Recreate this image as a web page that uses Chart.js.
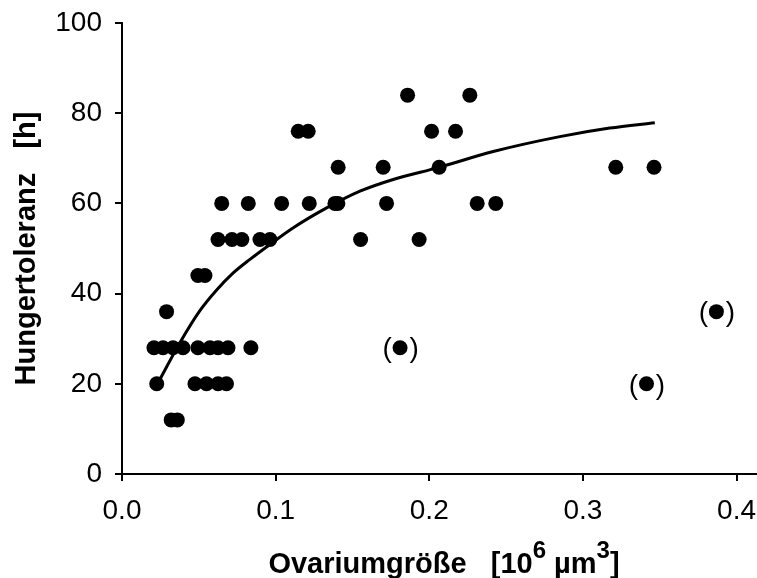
<!DOCTYPE html>
<html>
<head>
<meta charset="utf-8">
<script src="https://cdn.jsdelivr.net/npm/chart.js@4.4.1/dist/chart.umd.min.js"></script>
<style>
html,body{margin:0;padding:0;background:#fff;overflow:hidden;}
#wrap{width:764px;height:578px;position:relative;}
</style>
</head>
<body>
<div id="wrap"><canvas id="c"></canvas></div>
<script>
// measured points (x = Ovariumgröße, y = Hungertoleranz)
const ovX=[0.032,0.036,
0.0226,0.0475,0.055,0.0625,0.068,
0.0208,0.0267,0.0332,0.0397,0.0494,0.0573,0.0625,0.069,0.0839,
0.029,
0.0494,0.054,
0.0625,0.0716,0.078,0.0898,0.0963,0.1553,0.1934,
0.0649,0.0822,0.1039,0.1219,0.1386,0.1405,0.1722,0.2312,0.2433,
0.1407,0.170,0.2064,0.3214,0.3463,
0.1147,0.1212,0.2015,0.2171,
0.1859,0.2264];
const hungerY=[12,12,
20,20,20,20,20,
28,28,28,28,28,28,28,28,28,
36,
44,44,
52,52,52,52,52,52,52,
60,60,60,60,60,60,60,60,60,
68,68,68,68,68,
76,76,76,76,
84,84];
// bracketed outliers "(•)"
const outX=[0.181,0.3414,0.3869];
const outY=[28,20,36];
// fitted curve
const fitX=[0.0236,0.0377,0.0507,0.0616,0.0724,0.0833,0.0963,0.1115,0.1332,0.1549,0.1765,0.2064,0.2416,0.285,0.3175,0.3468];
const fitY=[20.3,29.1,36.2,40.8,44.6,47.6,50.9,54.6,59.0,62.7,65.3,68.0,71.5,74.8,76.7,77.9];
const xTicks=[0,0.1,0.2,0.3,0.4];
const yTicks=[0,20,40,60,80,100];
// x title pieces, second value = superscript
const xTitle=[['Ovariumgröße   [10',0],['6',1],[' µm',0],['3',1],[']',0]];

const FONT='"Liberation Sans", Arial, sans-serif';

const pts=ovX.map((x,i)=>({x:x,y:hungerY[i]}));
const outPts=outX.map((x,i)=>({x:x,y:outY[i]}));
const fit=fitX.map((x,i)=>({x:x,y:fitY[i]}));

const extras={
id:'extras',
afterDatasetsDraw(chart){
const ctx=chart.ctx, xs=chart.scales.x, ys=chart.scales.y;
ctx.save();
ctx.fillStyle='#000';
ctx.font='28px '+FONT;
ctx.textAlign='center';
ctx.textBaseline='middle';
outPts.forEach(p=>{
const px=xs.getPixelForValue(p.x), py=ys.getPixelForValue(p.y);
ctx.fillText('(',px-13,py+2);
ctx.fillText(')',px+14,py+2);
});
// x axis title with raised exponents
const big='bold 29px '+FONT, small='bold 24px '+FONT;
let w=0;
xTitle.forEach(s=>{ctx.font=s[1]?small:big; w+=ctx.measureText(s[0]).width;});
let x=444-w/2;
const base=573;
ctx.textAlign='left';
ctx.textBaseline='alphabetic';
xTitle.forEach(s=>{
ctx.font=s[1]?small:big;
ctx.fillText(s[0],x,s[1]?base-15:base);
x+=ctx.measureText(s[0]).width;
});
ctx.restore();
}
};

new Chart(document.getElementById('c'),{
type:'scatter',
data:{datasets:[
{data:fit,type:'line',showLine:true,borderColor:'#000',borderWidth:3,pointRadius:0,fill:false,cubicInterpolationMode:'monotone',order:2},
{data:pts,backgroundColor:'#000',borderColor:'#000',pointRadius:7.5,pointHoverRadius:7.5,borderWidth:0,order:1},
{data:outPts,backgroundColor:'#000',borderColor:'#000',pointRadius:7.5,pointHoverRadius:7.5,borderWidth:0,order:1}
]},
plugins:[extras],
options:{
responsive:true,
maintainAspectRatio:false,
animation:false,
events:[],
layout:{padding:{top:23,right:0,left:0,bottom:0}},
plugins:{legend:{display:false},tooltip:{enabled:false}},
scales:{
x:{
type:'linear',min:0,max:0.413,
afterBuildTicks:s=>{s.ticks=xTicks.map(v=>({value:v}));},
afterFit:s=>{s.height=104;s.paddingLeft=0;s.paddingRight=0;},
ticks:{color:'#000',font:{family:FONT,size:28},padding:13,maxRotation:0,callback:v=>v.toFixed(1)},
grid:{display:true,drawOnChartArea:false,drawTicks:true,tickLength:7,color:'#000',lineWidth:2},
border:{display:true,color:'#000',width:2}
},
y:{
type:'linear',min:0,max:100,
afterBuildTicks:s=>{s.ticks=yTicks.map(v=>({value:v}));},
afterFit:s=>{s.width=122;s.paddingTop=0;s.paddingBottom=0;},
ticks:{color:'#000',font:{family:FONT,size:28},padding:13},
grid:{display:true,drawOnChartArea:false,drawTicks:true,tickLength:7,color:'#000',lineWidth:2},
border:{display:true,color:'#000',width:2},
title:{display:true,text:'Hungertoleranz   [h]',color:'#000',font:{family:FONT,size:29,weight:'bold'},padding:{top:10,bottom:0}}
}
}
}
});
</script>
</body>
</html>
